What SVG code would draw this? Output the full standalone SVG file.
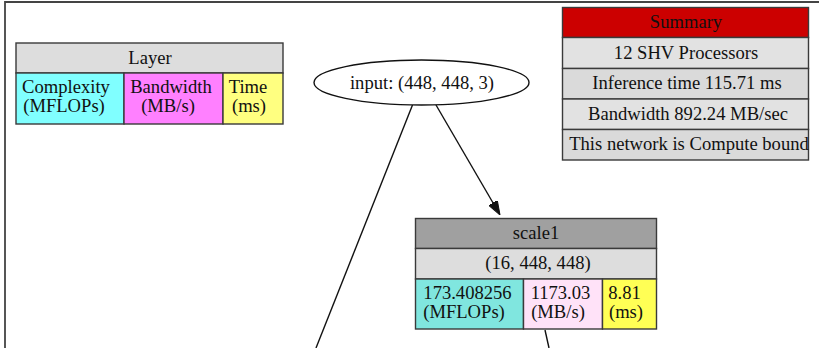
<svg xmlns="http://www.w3.org/2000/svg" width="819" height="348" viewBox="0 0 819 348">
  <style>
    text { font-family: "Liberation Serif", "Times New Roman", serif; font-size: 18.6px; fill: #111; text-anchor: middle; }
    .cell { stroke: #3a3a3a; stroke-width: 1.4; }
    .edge { fill: none; stroke: #111; stroke-width: 1.4; }
    .frame { fill: none; stroke: #444; stroke-width: 1.8; }
  </style>
  <defs>
    <marker id="arrow" viewBox="0 0 14 10" refX="13" refY="5" markerWidth="14" markerHeight="10" markerUnits="userSpaceOnUse" orient="auto">
      <path d="M0,0 L14,5 L0,10 Z" fill="#111" stroke="#111" stroke-width="1"/>
    </marker>
  </defs>

  <rect width="819" height="348" fill="#fff"/>
  <path class="frame" d="M5,348 V2 H819"/>

  <!-- connectors -->
  <g id="edges">
    <line class="edge" x1="412.5" y1="105" x2="316" y2="348"/>
    <line class="edge" x1="436" y1="105" x2="499.5" y2="214" marker-end="url(#arrow)"/>
    <line class="edge" x1="545" y1="330" x2="549" y2="348"/>
  </g>

  <!-- legend -->
  <g id="legend">
    <rect class="cell" x="16" y="43" width="267" height="30" fill="#dddddd"/>
    <rect class="cell" x="16" y="73" width="108" height="51" fill="#80ffff"/>
    <rect class="cell" x="124" y="73" width="99" height="51" fill="#ff80ff"/>
    <rect class="cell" x="223" y="73" width="60" height="51" fill="#ffff80"/>
    <text x="150" y="64">Layer</text>
    <text x="66" y="93">Complexity</text>
    <text x="64" y="112">(MFLOPs)</text>
    <text x="171" y="93">Bandwidth</text>
    <text x="168" y="112">(MB/s)</text>
    <text x="248" y="93">Time</text>
    <text x="249" y="112">(ms)</text>
  </g>

  <!-- input node -->
  <g id="input">
    <ellipse cx="421.5" cy="82.5" rx="107.5" ry="22.5" fill="#fff" stroke="#111" stroke-width="1.4"/>
    <text x="422" y="89">input: (448, 448, 3)</text>
  </g>

  <!-- scale1 node -->
  <g id="scale1">
    <rect class="cell" x="415.5" y="218.5" width="241" height="30" fill="#a0a0a0"/>
    <rect class="cell" x="415.5" y="248.5" width="241" height="30.5" fill="#dddddd"/>
    <rect class="cell" x="415.5" y="279" width="108" height="50" fill="#80e6df"/>
    <rect class="cell" x="523.5" y="279" width="79" height="50" fill="#ffe2f8"/>
    <rect class="cell" x="602.5" y="279" width="54" height="50" fill="#ffff55"/>
    <text x="536" y="239">scale1</text>
    <text x="538" y="269">(16, 448, 448)</text>
    <text x="467.5" y="299">173.408256</text>
    <text x="464" y="318">(MFLOPs)</text>
    <text x="560.5" y="299">1173.03</text>
    <text x="558" y="318">(MB/s)</text>
    <text x="624.5" y="299">8.81</text>
    <text x="626" y="318">(ms)</text>
  </g>

  <!-- summary -->
  <g id="summary">
    <rect class="cell" x="562.5" y="7.5" width="246" height="30" fill="#cc0000"/>
    <rect class="cell" x="562.5" y="37.5" width="246" height="31" fill="#e2e2e2"/>
    <rect class="cell" x="562.5" y="68.5" width="246" height="30.5" fill="#dadada"/>
    <rect class="cell" x="562.5" y="99" width="246" height="30.5" fill="#e2e2e2"/>
    <rect class="cell" x="562.5" y="129.5" width="246" height="30.5" fill="#dadada"/>
    <text x="686" y="28">Summary</text>
    <text x="686" y="58.5">12 SHV Processors</text>
    <text x="687" y="89">Inference time 115.71 ms</text>
    <text x="688" y="119.5">Bandwidth 892.24 MB/sec</text>
    <text x="689" y="150">This network is Compute bound</text>
  </g>
</svg>
